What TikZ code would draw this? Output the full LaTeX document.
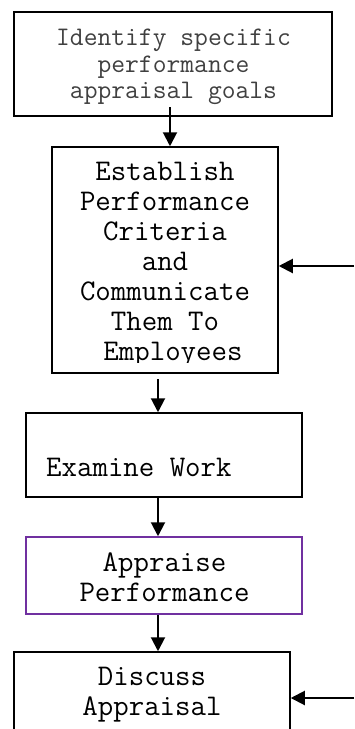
\documentclass[tikz,border=0pt]{standalone}
\usepackage{fontspec}
\usetikzlibrary{arrows.meta}
\definecolor{boxpurple}{RGB}{112,48,160}
\definecolor{softtext}{RGB}{64,64,64}
\tikzset{
  stepbox/.style={draw=black, line width=1.5pt, fill=none, inner sep=0pt},
  bigtxt/.style={font=\ttfamily\fontsize{30}{30}\selectfont, align=center, inner sep=0pt},
  smalltxt/.style={font=\ttfamily\fontsize{26.8}{26.5}\selectfont, align=center, inner sep=0pt, text=softtext},
  flow/.style={line width=2pt, -{Triangle[length=14pt,width=14pt]}}
}
\begin{document}
\begin{tikzpicture}[x=1pt,y=1pt]
\clip (0,0) rectangle (354,-729);
\fill[white] (0,0) rectangle (354,-729);

% boxes
\node[stepbox, minimum width=318pt, minimum height=104pt] (goals) at (173,-64) {};
\node[stepbox, minimum width=226pt, minimum height=226pt] (criteria) at (165,-260) {};
\node[stepbox, minimum width=276pt, minimum height=84pt] (examine) at (164,-455) {};
\node[stepbox, draw=boxpurple, minimum width=276pt, minimum height=77pt] (appraise) at (164,-575.5) {};
\node[stepbox, minimum width=276pt, minimum height=120pt] (discuss) at (152,-712) {};

% texts
\node[smalltxt, anchor=base] (t1a) at (173.5,-45) {Identify specific};
\node[smalltxt, anchor=base] (t1b) at (173.5,-72) {performance};
\node[smalltxt, anchor=base] (t1c) at (173.5,-98.5) {appraisal goals};

\begin{scope}
  \clip (53,-148) rectangle (277,-362);
  \node[bigtxt, anchor=base] (t2a) at (165,-180.5) {Establish};
  \node[bigtxt, anchor=base] (t2b) at (165,-210.5) {Performance};
  \node[bigtxt, anchor=base] (t2c) at (165,-240.5) {Criteria};
  \node[bigtxt, anchor=base] (t2d) at (165,-270.5) {and};
  \node[bigtxt, anchor=base] (t2e) at (165,-300.5) {Communicate};
  \node[bigtxt, anchor=base] (t2f) at (165,-330.5) {Them To};
  \node[bigtxt, anchor=base] (t2g) at (173,-360.5) {Employees};
\end{scope}

\node[bigtxt, anchor=base west] (t3) at (46,-476) {Examine Work};

\node[bigtxt, anchor=base] (t4a) at (164.5,-571) {Appraise};
\node[bigtxt, anchor=base] (t4b) at (164.5,-601) {Performance};

\node[bigtxt, anchor=base] (t5a) at (152,-685) {Discuss};
\node[bigtxt, anchor=base] (t5b) at (152,-715) {Appraisal};

% connector anchors
\coordinate (c1) at (170,-107);
\coordinate (spine) at (158,0);
\coordinate (c2) at (158,-379);
\coordinate (fb1) at (354,-266);
\coordinate (fb2) at (354,-698);

% connectors
\draw[flow] (c1) -- (criteria.north -| c1);
\draw[flow] (c2) -- (examine.north -| spine);
\draw[flow] (examine.south -| spine) -- (appraise.north -| spine);
\draw[flow] (appraise.south -| spine) -- (discuss.north -| spine);
\draw[flow] (fb1) -- (criteria.east |- fb1);
\draw[flow] (fb2) -- (discuss.east |- fb2);
\end{tikzpicture}
\end{document}
